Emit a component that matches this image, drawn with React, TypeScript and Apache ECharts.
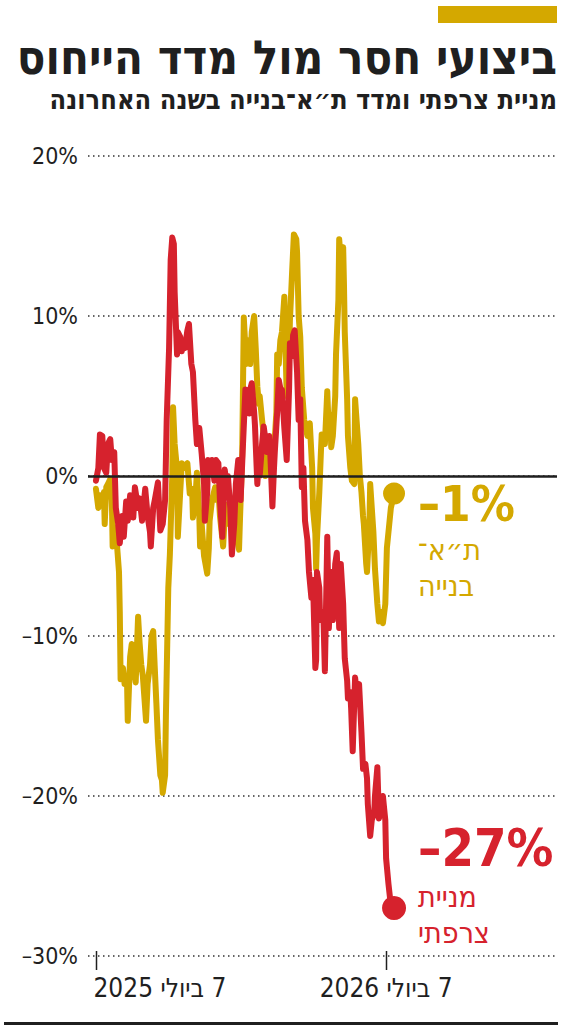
import React, { useEffect, useRef } from "react";
import * as echarts from "echarts";

const GOLD = "#D4A800";
const RED = "#D6222D";
const INK = "#1F1F1F";

const titleText = "ביצועי חסר מול מדד הייחוס";
const subtitleText = "מניית צרפתי ומדד ת״א־בנייה בשנה האחרונה";

const yTickValues = [-30, -20, -10, 0, 10, 20];
const yTickLabels = ["–30%", "–20%", "–10%", "0%", "10%", "20%"];

const xTickDays = [0, 365];
const xTickLabels = ["7 ביולי 2025", "7 ביולי 2026"];

const goldLabelLines = ["ת״א־", "בנייה"];
const redLabelLines = ["מניית", "צרפתי"];

// days since 7 July 2025, percent change
const goldDays = [0, 3, 5, 8, 10, 11, 13, 15, 18, 20, 21, 24, 26, 29, 30, 31, 34, 36, 39, 40, 43, 45, 47, 49, 50, 53, 55, 57, 59, 63, 65, 68, 70, 72, 74, 76, 78, 81, 83, 84, 87, 88, 91, 93, 96, 97, 99, 102, 103, 106, 108, 111, 115, 118, 121, 122, 125, 127, 130, 131, 133, 136, 140, 142, 143, 146, 150, 152, 154, 156, 160, 162, 165, 167, 169, 171, 174, 176, 180, 181, 184, 186, 189, 190, 193, 194, 196, 199, 201, 203, 205, 206, 209, 211, 213, 215, 218, 220, 224, 227, 228, 230, 232, 234, 237, 239, 240, 243, 244, 247, 249, 252, 253, 255, 257, 259, 262, 264, 266, 268, 269, 272, 273, 276, 277, 278, 281, 283, 284, 287, 288, 291, 292, 295, 296, 298, 301, 302, 305, 306, 308, 311, 312, 313, 316, 317, 320, 322, 325, 326, 328, 330, 332, 334, 336, 337, 340, 341, 344, 345, 347, 349, 351, 354, 356, 359, 361, 364, 366, 369, 371, 375];
const goldValues = [-0.8, -2.0, -1.2, -1.8, -1.0, -3.0, -0.7, -0.5, -0.2, -1.5, -4.4, -3.2, -4.0, -6.0, -8.5, -12.7, -12.0, -13.0, -12.5, -15.3, -11.3, -10.5, -10.8, -12.5, -12.9, -8.8, -10.5, -11.8, -12.5, -15.3, -13.0, -11.8, -10.0, -9.7, -12.0, -14.2, -16.5, -18.7, -19.0, -19.8, -18.7, -15.0, -7.0, -4.9, 0.0, 4.3, 2.0, 0.4, -3.8, -1.0, 0.8, 0.5, 0.8, -1.1, -0.8, -2.6, -1.5, 0.2, -2.5, -4.4, -3.0, -5.0, -6.1, -4.5, -2.8, -1.5, -0.7, -1.5, -0.8, -2.5, -4.4, -2.5, -1.8, -3.0, -2.5, -2.8, -1.5, -3.5, -4.6, -3.0, 1.4, 9.9, 7.0, 7.6, 8.5, 7.0, 9.0, 10.0, 8.0, 5.6, 4.5, 5.0, 3.5, 2.6, 0.0, 1.5, 2.4, 2.0, 1.5, 4.0, 7.6, 7.0, 8.5, 9.0, 11.2, 7.0, 5.0, 7.5, 9.7, 13.0, 15.1, 14.8, 14.0, 10.0, 8.7, 5.5, 3.5, 3.0, 2.5, 3.0, 3.3, 0.5, -2.0, -3.6, -5.8, -4.0, -1.0, 1.5, 2.6, 2.2, 2.0, 5.3, 4.0, 3.5, 1.8, 2.5, 5.0, 7.6, 11.0, 14.8, 13.5, 14.3, 12.0, 9.0, 4.8, 2.5, 0.5, -0.3, -0.5, 4.8, 3.4, 2.0, 0.0, -1.0, -2.5, -3.0, -5.5, -6.0, -3.0, -0.5, -2.0, -3.5, -5.8, -8.0, -9.1, -8.5, -9.2, -8.0, -4.5, -3.0, -2.0, -1.1];

const redDays = [0, 3, 5, 8, 10, 13, 15, 18, 20, 23, 25, 28, 30, 33, 35, 38, 40, 43, 47, 49, 53, 55, 58, 62, 65, 68, 69, 72, 74, 78, 81, 84, 87, 89, 92, 94, 96, 98, 99, 102, 103, 106, 108, 109, 112, 115, 117, 120, 122, 125, 127, 130, 133, 136, 137, 140, 141, 143, 146, 149, 151, 154, 156, 159, 161, 162, 165, 166, 169, 171, 174, 176, 179, 180, 182, 185, 188, 190, 193, 194, 196, 199, 200, 203, 205, 206, 209, 211, 214, 215, 218, 219, 222, 224, 225, 228, 230, 233, 234, 237, 240, 243, 244, 247, 248, 250, 253, 255, 257, 259, 261, 263, 266, 268, 271, 273, 276, 277, 278, 281, 282, 286, 288, 291, 293, 296, 298, 301, 303, 306, 308, 311, 313, 316, 317, 320, 321, 323, 326, 328, 331, 334, 336, 339, 341, 342, 345, 347, 350, 351, 354, 356, 359, 361, 364, 365, 368, 370, 373, 375];
const redValues = [-0.3, 0.5, 2.6, 2.5, 0.5, 0.2, 2.0, 2.3, 1.0, 1.5, -2.0, -3.0, -4.2, -2.5, -3.8, -1.6, -2.8, -1.2, -2.6, -0.7, -2.0, -1.4, -2.8, -0.8, -2.5, -3.5, -4.4, -2.0, -1.5, -0.4, -3.4, -3.0, -1.5, 3.5, 8.0, 13.5, 14.9, 14.5, 11.5, 7.6, 9.0, 8.7, 7.8, 8.4, 8.0, 9.1, 9.5, 7.0, 6.5, 3.5, 2.0, 3.0, 1.4, -0.5, -2.8, -1.0, 1.0, 0.2, 1.0, -0.3, 1.0, 0.8, -1.5, -3.8, -1.0, 0.4, -0.8, 0.0, -2.0, -4.9, -3.0, -0.5, 1.0, 1.0, -1.5, 2.0, 5.4, 5.0, 3.9, 5.4, 5.8, 4.0, 3.2, -0.5, 1.0, 0.0, 2.0, 3.1, 2.0, 1.5, 2.5, 1.8, -1.9, 0.5, 1.5, 4.0, 6.0, 5.2, 5.4, 3.0, 1.0, 5.5, 8.3, 7.5, 8.8, 9.1, 6.5, 3.5, 4.8, -0.7, 0.5, -2.8, -4.0, -6.0, -7.6, -6.5, -12.0, -11.5, -6.0, -7.0, -9.0, -8.5, -12.2, -3.8, -9.5, -6.0, -9.0, -5.5, -4.8, -9.5, -5.5, -8.0, -11.4, -12.8, -13.9, -13.5, -14.5, -17.2, -12.6, -13.5, -13.0, -16.0, -18.3, -18.0, -18.9, -20.5, -22.5, -21.5, -21.1, -20.0, -18.2, -21.4, -20.5, -20.0, -21.5, -23.9, -25.5, -26.4, -26.6, -27.0];

const rtl = (s: string) => "\u202B" + s + "\u202C";
const pct = (v: number) => (v < 0 ? "–" : "") + Math.abs(Math.round(v)) + "%";

const NUM_FONT = "'DejaVu Sans Condensed', 'Liberation Sans', sans-serif";
const HEB_FONT = "'DejaVu Sans Condensed', 'Liberation Sans', sans-serif";

export default function App() {
  const ref = useRef<HTMLDivElement>(null);
  useEffect(() => {
    document.body.style.margin = "0";
    if (!ref.current) return;
    const chart = echarts.init(ref.current, null, { renderer: "svg" });
    const gold = goldDays.map((d, i) => [d, goldValues[i]]);
    const red = redDays.map((d, i) => [d, redValues[i]]);
    const gLast = gold[gold.length - 1];
    const rLast = red[red.length - 1];

    const baseGraphics: any[] = [
      { id: "bar", type: "rect", shape: { x: 438, y: 6, width: 119, height: 17 }, style: { fill: GOLD } },
      {
        id: "title",
        type: "text",
        x: 557,
        y: 34,
        style: { text: titleText, font: "bold 47px " + HEB_FONT, lineHeight: 47, fill: INK, textAlign: "right", textVerticalAlign: "top" },
      },
      {
        id: "subtitle",
        type: "text",
        x: 557,
        y: 86,
        style: { text: subtitleText, font: "bold 27px " + HEB_FONT, lineHeight: 27, fill: INK, textAlign: "right", textVerticalAlign: "top" },
      },
      {
        id: "goldPct",
        type: "text",
        x: 418,
        y: 480,
        style: { text: pct(gLast[1]), font: "bold 49px " + NUM_FONT, fill: GOLD, textAlign: "left", textVerticalAlign: "top" },
      },
      {
        id: "goldName",
        type: "text",
        x: 418,
        y: 531,
        style: { text: goldLabelLines.join("\n"), font: "30px " + HEB_FONT, lineHeight: 36, fill: GOLD, textAlign: "left", textVerticalAlign: "top" },
      },
      {
        id: "redPct",
        type: "text",
        x: 418,
        y: 822,
        style: { text: pct(rLast[1]), font: "bold 52px " + NUM_FONT, fill: RED, textAlign: "left", textVerticalAlign: "top" },
      },
      {
        id: "redName",
        type: "text",
        x: 418,
        y: 878,
        style: { text: redLabelLines.join("\n"), font: "30px " + HEB_FONT, lineHeight: 36, fill: RED, textAlign: "left", textVerticalAlign: "top" },
      },
      { id: "rule", type: "rect", shape: { x: 4, y: 1022, width: 554, height: 3 }, style: { fill: INK } },
    ];

    chart.setOption({
      animation: false,
      backgroundColor: "#ffffff",
      grid: { left: 88, right: 7, top: 156, bottom: 75, containLabel: false },
      xAxis: {
        type: "value",
        min: -10,
        max: 580,
        axisLine: { show: false },
        splitLine: { show: false },
        axisTick: { show: false },
        axisLabel: {
          customValues: xTickDays,
          margin: 19,
          formatter: (v: number) => {
            const i = xTickDays.indexOf(v);
            const t = i >= 0 ? rtl(xTickLabels[i]) : "";
            return i === 0 ? "{a|" + t + "}" : "{b|" + t + "}";
          },
          rich: {
            a: { fontFamily: NUM_FONT, fontSize: 26, fontWeight: 500, color: INK, padding: [0, 0, 0, 128] },
            b: { fontFamily: NUM_FONT, fontSize: 26, fontWeight: 500, color: INK },
          },
        },
      },
      yAxis: {
        type: "value",
        min: -30,
        max: 20,
        interval: 10,
        axisLine: { show: false },
        axisTick: { show: false },
        axisLabel: {
          margin: 10,
          fontFamily: NUM_FONT,
          fontSize: 23,
          color: INK,
          formatter: (v: number) => {
            const i = yTickValues.indexOf(v);
            return i >= 0 ? yTickLabels[i] : "";
          },
        },
        splitLine: { lineStyle: { color: "#333", width: 1.5, type: [1.5, 3.5] } },
      },
      series: [
        {
          type: "line",
          data: gold,
          showSymbol: false,
          lineStyle: { color: GOLD, width: 6, cap: "round", join: "round" },
          z: 2,
        },
        {
          type: "line",
          data: red,
          showSymbol: false,
          lineStyle: { color: RED, width: 6, cap: "round", join: "round" },
          z: 3,
        },
        {
          type: "line",
          data: [],
          z: 4,
          markLine: {
            silent: true,
            symbol: "none",
            label: { show: false },
            lineStyle: { color: INK, width: 2.5, type: "solid" },
            data: [{ yAxis: 0 }],
          },
        },
        {
          type: "scatter",
          data: [gLast],
          symbolSize: 22,
          itemStyle: { color: GOLD, opacity: 1 },
          z: 5,
        },
        {
          type: "scatter",
          data: [rLast],
          symbolSize: 24,
          itemStyle: { color: RED, opacity: 1 },
          z: 5,
        },
      ],
      graphic: baseGraphics,
    });

    // x-axis tick marks positioned through the axis scale
    const yBase = chart.convertToPixel({ yAxisIndex: 0 }, yTickValues[0]) as number;
    const tickGraphics = xTickDays.map((d, i) => {
      const px = Math.round(chart.convertToPixel({ xAxisIndex: 0 }, d) as number) + 0.5;
      return {
        id: "xtick" + i,
        type: "line",
        z: 10,
        shape: { x1: px, y1: yBase - 5, x2: px, y2: yBase + 14 },
        style: { stroke: INK, lineWidth: 1.5 },
      };
    });
    chart.setOption({ graphic: [...baseGraphics, ...tickGraphics] });

    return () => chart.dispose();
  }, []);
  return <div ref={ref} style={{ width: 564, height: 1031 }} />;
}
